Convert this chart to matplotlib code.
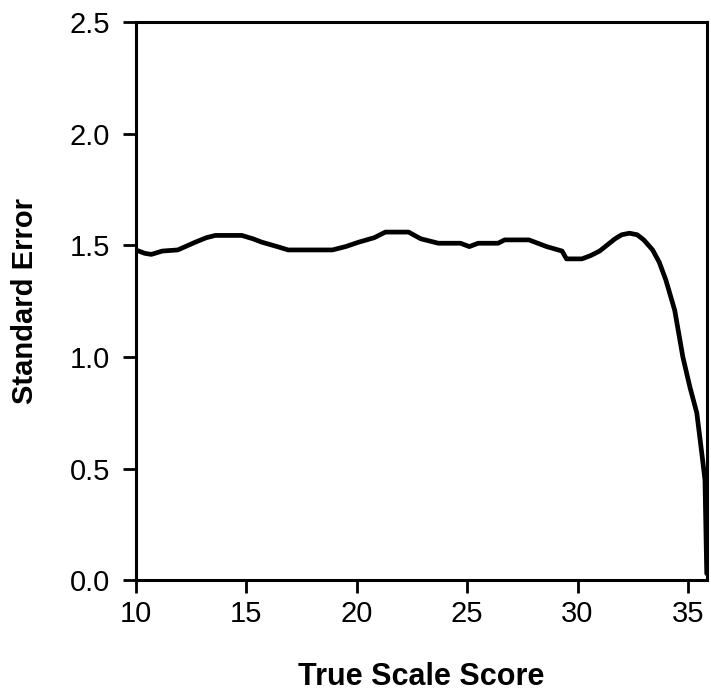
import matplotlib
matplotlib.use("Agg")
import matplotlib.pyplot as plt

plt.rcParams['font.family'] = ['Liberation Sans', 'DejaVu Sans']

# values
score = [10.0, 10.4, 10.7, 11.2, 11.9, 12.7, 13.2, 13.6, 14.8, 15.3, 15.7, 16.4, 16.9,
         18.9, 19.5, 20.1, 20.8, 21.3, 22.35, 22.9, 23.7, 24.7, 25.1, 25.5, 26.4, 26.7,
         27.8, 28.2, 28.6, 29.3, 29.5, 30.2, 30.6, 31.0, 31.7, 32.0, 32.35, 32.7, 33.0,
         33.4, 33.7, 34.0, 34.4, 34.77, 35.09, 35.4, 35.65, 35.77, 35.85]
std_err = [1.48, 1.465, 1.46, 1.475, 1.48, 1.515, 1.535, 1.545, 1.545, 1.53, 1.515, 1.495,
           1.48, 1.48, 1.495, 1.515, 1.535, 1.56, 1.56, 1.53, 1.51, 1.51, 1.495, 1.51,
           1.51, 1.525, 1.525, 1.51, 1.495, 1.475, 1.44, 1.44, 1.455, 1.475, 1.53, 1.548,
           1.555, 1.548, 1.525, 1.48, 1.425, 1.345, 1.21, 1.0, 0.865, 0.75, 0.55, 0.45,
           0.03]
xticks = [10, 15, 20, 25, 30, 35]
yticks = [0.0, 0.5, 1.0, 1.5, 2.0, 2.5]

fig = plt.figure(figsize=(7.11, 6.95), dpi=100)
ax = fig.add_axes([0.191, 0.165, 0.803, 0.803])
ax.plot(score, std_err, color='black', lw=3.4, solid_joinstyle='round',
        solid_capstyle='round')

ax.set_xlim(10, 35.85)
ax.set_ylim(0, 2.5)
ax.set_xticks(xticks)
ax.set_yticks(yticks)
ax.set_yticklabels([f'{v:.1f}' for v in yticks])
for s in ax.spines.values():
    s.set_linewidth(2.2)
ax.tick_params(axis='both', direction='out', length=9.5, width=2, labelsize=21)
ax.tick_params(axis='y', pad=9)
ax.tick_params(axis='x', pad=5)
ax.set_xlabel('True Scale Score', fontsize=22, fontweight='bold', labelpad=24)
ax.set_ylabel('Standard Error', fontsize=21, fontweight='bold', labelpad=22)

fig.savefig('out.png', dpi=100)
